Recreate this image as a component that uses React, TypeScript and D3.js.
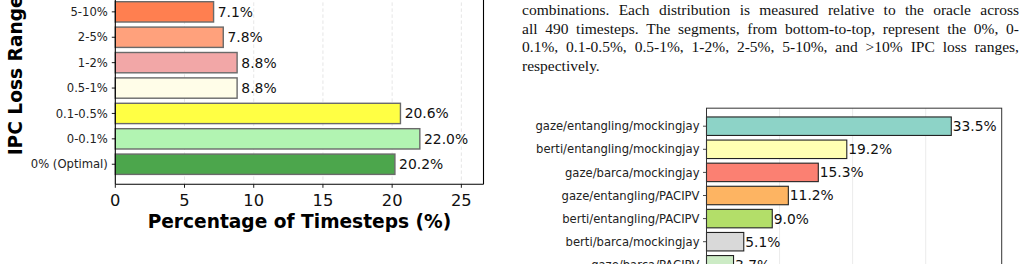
import React, { useMemo } from 'react';
import * as d3 from 'd3';

// Left chart: IPC loss range distribution (top category ">10%" lies outside the visible frame)
const lossRanges = ['0% (Optimal)', '0-0.1%', '0.1-0.5%', '0.5-1%', '1-2%', '2-5%', '5-10%'];
const lossPercents = [20.2, 22.0, 20.6, 8.8, 8.8, 7.8, 7.1];
const lossColors = ['#4ca64c', '#b2f4b2', '#ffff44', '#fffde8', '#f2a7a7', '#ffa17c', '#ff7f50'];
const lossTicks = [0, 5, 10, 15, 20, 25];

// Right chart: prefetcher/replacement combinations
const combos = [
  'gaze/entangling/mockingjay',
  'berti/entangling/mockingjay',
  'gaze/barca/mockingjay',
  'gaze/entangling/PACIPV',
  'berti/entangling/PACIPV',
  'berti/barca/mockingjay',
  'gaze/barca/PACIPV',
];
const comboPercents = [33.5, 19.2, 15.3, 11.2, 9.0, 5.1, 3.7];
const comboColors = ['#8dd3c7', '#ffffb3', '#fb8072', '#fdb462', '#b3de69', '#d9d9d9', '#ccebc5'];
const comboGrid = [10, 20, 30];

const captionLines = [
  'combinations. Each distribution is measured relative to the oracle across',
  'all 490 timesteps. The segments, from bottom-to-top, represent the 0%, 0-',
  '0.1%, 0.1-0.5%, 0.5-1%, 1-2%, 2-5%, 5-10%, and >10% IPC loss ranges,',
  'respectively.',
];

const SANS = 'DejaVu Sans, sans-serif';
const SERIF = "'Liberation Serif', 'Times New Roman', serif";
const CAP_FONT_SIZE = 15.5;

export default function App() {
  // Left chart scales
  const x1 = d3.scaleLinear().domain([0, 26.6]).range([115.3, 483.5]);
  const y1 = d3.scaleLinear().domain([-0.79, 7.79]).range([184.3, -33.6]);
  const h1 = y1(-0.4) - y1(0.4);

  // Right chart scales
  const x2 = d3.scaleLinear().domain([0, 40.4]).range([706.5, 1001.7]);
  const y2 = d3.scaleLinear().domain([0, 1]).range([126.2, 149.3]);
  const h2 = y2(0.4) - y2(-0.4);
  const top2 = y2(-0.78);

  const caption = useMemo(() => {
    const canvas = document.createElement('canvas');
    const ctx = canvas.getContext('2d')!;
    ctx.font = `${CAP_FONT_SIZE}px ${SERIF}`;
    const left = 522;
    const right = 1019;
    const spaceW = ctx.measureText(' ').width;
    return captionLines.map((line, li) => {
      const words = line.split(' ');
      const widths = words.map((w) => ctx.measureText(w).width);
      const total = widths.reduce((a, b) => a + b, 0);
      const last = li === captionLines.length - 1;
      const gap = last || words.length < 2 ? spaceW : Math.max(spaceW * 0.7, (right - left - total) / (words.length - 1));
      let cx = left;
      return words.map((w, i) => {
        const pos = cx;
        cx += widths[i] + gap;
        return { w, x: pos };
      });
    });
  }, []);

  const yMid1 = (y1(-0.79) + y1(7.79)) / 2;

  return (
    <svg width={1028} height={264} style={{ position: 'absolute', left: 0, top: 0, background: '#fff' }}>
      <rect x={0} y={0} width={1028} height={264} fill="#fff" />

      {/* ---------- Left chart ---------- */}
      {lossTicks.slice(1).map((t) => (
        <line key={'g1' + t} x1={x1(t)} x2={x1(t)} y1={y1(7.79)} y2={y1(-0.79)} stroke="#e3e3e3" strokeWidth={0.9} strokeDasharray="3.5,2.5" />
      ))}
      {lossRanges.map((r, i) => (
        <g key={r}>
          <rect x={x1(0)} y={y1(i) - h1 / 2} width={x1(lossPercents[i]) - x1(0)} height={h1} fill={lossColors[i]} stroke="#6a6a6a" strokeWidth={1.4} />
          <text x={x1(lossPercents[i]) + 4.2} y={y1(i)} dy="0.36em" fontFamily={SANS} fontSize={13.9} fill="#111">
            {lossPercents[i].toFixed(1)}%
          </text>
          <line x1={x1(0) - 3.5} x2={x1(0)} y1={y1(i)} y2={y1(i)} stroke="#000" strokeWidth={0.9} />
          <text x={x1(0) - 7.5} y={y1(i)} dy="0.36em" textAnchor="end" fontFamily={SANS} fontSize={11.6} fill="#222">
            {r}
          </text>
        </g>
      ))}
      {/* spines */}
      <line x1={x1(0)} x2={x1(0)} y1={y1(7.79)} y2={y1(-0.79)} stroke="#000" strokeWidth={1.1} />
      <line x1={x1(26.6)} x2={x1(26.6)} y1={y1(7.79)} y2={y1(-0.79)} stroke="#000" strokeWidth={1.1} />
      <line x1={x1(0)} x2={x1(26.6)} y1={y1(-0.79)} y2={y1(-0.79)} stroke="#000" strokeWidth={1.1} />
      {lossTicks.map((t) => (
        <g key={'t1' + t}>
          <line x1={x1(t)} x2={x1(t)} y1={y1(-0.79)} y2={y1(-0.79) + 3.5} stroke="#000" strokeWidth={0.9} />
          <text x={x1(t)} y={206} textAnchor="middle" fontFamily={SANS} fontSize={16.3} fill="#111">
            {t}
          </text>
        </g>
      ))}
      <text x={(x1(0) + x1(26.6)) / 2} y={228} textAnchor="middle" fontFamily={SANS} fontWeight="bold" fontSize={18.6} fill="#000">
        Percentage of Timesteps (%)
      </text>
      <text transform={`translate(21.7,${yMid1}) rotate(-90)`} textAnchor="middle" fontFamily={SANS} fontWeight="bold" fontSize={18.6} fill="#000">
        IPC Loss Range
      </text>

      {/* ---------- Caption text ---------- */}
      {caption.map((words, li) => (
        <text key={'c' + li} y={15 + li * 18.5} fontFamily={SERIF} fontSize={CAP_FONT_SIZE} fill="#111">
          {words.map((wd, wi) => (
            <tspan key={wi} x={wd.x}>
              {wd.w}
            </tspan>
          ))}
        </text>
      ))}

      {/* ---------- Right chart ---------- */}
      {comboGrid.map((t) => (
        <line key={'g2' + t} x1={x2(t)} x2={x2(t)} y1={top2} y2={300} stroke="#ebebeb" strokeWidth={1} />
      ))}
      {combos.map((c, i) => (
        <g key={c}>
          <rect x={x2(0)} y={y2(i) - h2 / 2} width={x2(comboPercents[i]) - x2(0)} height={h2} fill={comboColors[i]} stroke="#222" strokeWidth={1.1} />
          <text x={x2(comboPercents[i]) + 1.5} y={y2(i)} dy="0.36em" fontFamily={SANS} fontSize={13.8} fill="#111">
            {comboPercents[i].toFixed(1)}%
          </text>
          <line x1={x2(0) - 3.5} x2={x2(0)} y1={y2(i)} y2={y2(i)} stroke="#333" strokeWidth={0.9} />
          <text x={x2(0) - 7} y={y2(i)} dy="0.36em" textAnchor="end" fontFamily={SANS} fontSize={11.6} fill="#222">
            {c}
          </text>
        </g>
      ))}
      <rect x={x2(0)} y={top2} width={x2(40.4) - x2(0)} height={300 - top2} fill="none" stroke="#333" strokeWidth={1} />
    </svg>
  );
}
